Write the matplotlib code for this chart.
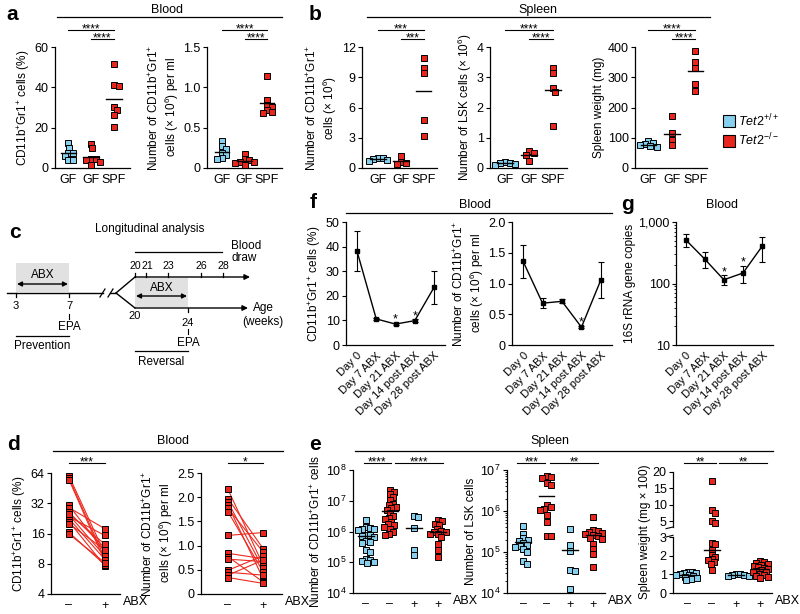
import numpy as np
import matplotlib
matplotlib.use('Agg')
import matplotlib.pyplot as plt
import matplotlib.transforms as mtransforms
from matplotlib.lines import Line2D
from matplotlib.patches import Rectangle
from matplotlib.ticker import NullLocator

plt.rcParams['font.family'] = ['Liberation Sans', 'DejaVu Sans']
plt.rcParams['mathtext.fontset'] = 'custom'
plt.rcParams['mathtext.rm'] = 'Liberation Sans'
plt.rcParams['mathtext.it'] = 'Liberation Sans:italic'
plt.rcParams['mathtext.bf'] = 'Liberation Sans:bold'
plt.rcParams['mathtext.default'] = 'regular'
plt.rcParams['font.size'] = 9
plt.rcParams['axes.linewidth'] = 0.9

BLUE = '#86cfee'
RED = '#e8261e'

# ---------------- data ----------------
gf_labels = ['GF', 'GF', 'SPF']
abx_labels = ['\u2013', '\u2013', '+', '+']
pair_labels = ['\u2013', '+']
days = ['Day 0', 'Day 7 ABX', 'Day 21 ABX', 'Day 14 post ABX', 'Day 28 post ABX']

# a: blood
a_pct_gf_wt = [12.2, 10.0, 7.5, 7.3, 5.8, 4.2, 4.0]
a_pct_gf_ko = [12.0, 9.8, 4.6, 4.4, 4.2, 3.1, 1.6]
a_pct_spf_ko = [51.8, 41.0, 40.6, 30.4, 28.8, 26.3, 20.2]
a_num_gf_wt = [0.34, 0.27, 0.24, 0.19, 0.16, 0.12, 0.11]
a_num_gf_ko = [0.17, 0.11, 0.10, 0.08, 0.07, 0.06, 0.04]
a_num_spf_ko = [1.14, 0.84, 0.78, 0.76, 0.72, 0.70, 0.68]

# b: spleen
b_cd11_gf_wt = [1.0, 1.0, 0.9, 0.8, 0.7]
b_cd11_gf_ko = [1.15, 0.6, 0.5, 0.35]
b_cd11_spf_ko = [10.9, 9.9, 9.4, 4.8, 3.2]
b_lsk_gf_wt = [0.2, 0.18, 0.15, 0.12, 0.1]
b_lsk_gf_ko = [0.55, 0.5, 0.44, 0.22]
b_lsk_spf_ko = [3.3, 3.13, 2.64, 2.5, 1.4]
b_wt_gf_wt = [88, 82, 78, 75, 72, 70]
b_wt_gf_ko = [172, 115, 91, 75]
b_wt_spf_ko = [387, 351, 332, 279, 255]

# f, g: longitudinal
f_pct = [38.2, 10.6, 8.5, 9.9, 23.4]
f_pct_err = [8.0, 0.5, 0.4, 0.5, 6.7]
f_pct_stars = [2, 3]
f_num = [1.36, 0.68, 0.71, 0.29, 1.06]
f_num_err = [0.27, 0.08, 0.03, 0.02, 0.29]
f_num_stars = [3]
g_copies = [516, 250, 115, 148, 402]
g_err = [122, 71, 21, 47, 175]
g_stars = [2, 3]

# d: paired, before / after ABX
d_pct_pre = [60, 57, 55, 30.5, 29, 26, 24.5, 23.5, 22.5, 21, 20, 16.4, 15.8, 25]
d_pct_abx = [10, 9, 8.4, 10.5, 17.8, 11.5, 9.5, 15.3, 8.8, 7.6, 11, 7.8, 8.2, 12.5]
d_num_pre = [2.16, 1.97, 1.9, 1.83, 1.77, 1.7, 1.21, 0.84, 0.77, 0.72, 0.49, 0.45, 0.39, 0.34]
d_num_abx = [0.6, 0.94, 0.53, 0.32, 0.87, 0.46, 1.27, 0.73, 0.25, 0.67, 0.79, 0.39, 0.7, 0.22]

# e: spleen, ctrl wt / ctrl ko / abx wt / abx ko
e_cd11_ctrl_wt = [2.3e6, 1.4e6, 1.3e6, 1.25e6, 1.2e6, 1.1e6, 7.9e5, 7.6e5, 7.2e5, 6.8e5,
                  4.8e5, 4.6e5, 4.2e5, 2.5e5, 2.2e5, 1.3e5, 1.2e5, 1.1e5, 1.0e5, 9.5e4]
e_cd11_ctrl_ko = [2.3e7, 1.95e7, 1.65e7, 1.35e7, 1.05e7, 8.1e6, 7.2e6, 6.3e6, 5.6e6, 5.0e6, 3.9e6,
                  3.2e6, 2.8e6, 2.6e6, 2.1e6, 1.75e6, 1.6e6, 1.4e6, 1.2e6, 9.8e5, 8.6e5, 7.6e5]
e_cd11_abx_wt = [3.2e6, 3.0e6, 1.26e6, 2.5e5, 1.7e5]
e_cd11_abx_ko = [2.3e6, 2.2e6, 1.8e6, 1.6e6, 1.2e6, 1.05e6, 1.0e6, 9.5e5, 8.5e5, 8.0e5,
                 6.8e5, 4.0e5, 2.5e5, 1.5e5]
e_cd11_lines = [7.2e5, 4.5e6, 1.26e6, 9.8e5]
e_lsk_ctrl_wt = [4.3e5, 2.8e5, 2.15e5, 2.0e5, 1.9e5, 1.65e5, 1.5e5, 1.4e5, 1.3e5, 1.2e5, 1.0e5, 6.0e4, 5.2e4]
e_lsk_ctrl_ko = [7.2e6, 6.9e6, 6.3e6, 4.7e6, 4.3e6, 1.4e6, 1.26e6, 1.15e6, 1.05e6, 8.0e5, 5.5e5, 2.5e5, 2.4e5]
e_lsk_abx_wt = [3.55e5, 1.48e5, 1.07e5, 3.7e4, 3.5e4, 1.26e4]
e_lsk_abx_ko = [7.2e5, 3.5e5, 3.3e5, 3.1e5, 2.9e5, 2.8e5, 2.6e5, 2.4e5, 2.2e5, 2.1e5, 1.6e5, 1.2e5, 9.0e4, 4.4e4]
e_lsk_lines = [1.8e5, 2.3e6, 1.1e5, 2.6e5]
e_wt_ctrl_wt = [1.15, 1.12, 1.08, 1.05, 1.0, 0.98, 0.95, 0.9, 0.88, 0.82, 0.75, 0.68]
e_wt_ctrl_ko = [17.2, 8.4, 7.5, 4.9, 4.3, 2.7, 2.6, 2.3, 2.05, 1.93, 1.84, 1.75, 1.66, 1.57, 1.22]
e_wt_abx_wt = [1.02, 1.0, 0.97, 0.95, 0.92, 0.9]
e_wt_abx_ko = [1.7, 1.65, 1.6, 1.55, 1.5, 1.45, 1.4, 1.35, 1.3, 1.25, 1.2, 1.15, 1.1, 1.0,
               0.95, 0.9, 0.85, 0.78]
e_wt_lines = [0.95, 2.3, 0.95, 1.3]

# c: schematic weeks
c_prev_weeks = [3, 7]
c_top_weeks = [20, 21, 23, 26, 28]
c_bot_weeks = [20, 24]

# ---------------- helpers ----------------
W, H = 800, 614
fig = plt.figure(figsize=(W / 100, H / 100), dpi=100)


def box(x0, y0, x1, y1):
    return fig.add_axes([x0 / W, 1 - y1 / H, (x1 - x0) / W, (y1 - y0) / H])


def ftext(x, y, s, **kw):
    fig.text(x / W, 1 - y / H, s, **kw)


def fline(x0, x1, y, lw=0.9):
    fig.add_artist(Line2D([x0 / W, x1 / W], [1 - y / H, 1 - y / H], color='k', lw=lw,
                          transform=fig.transFigure))


def style(ax, ylabel, ylim, yticks, yticklabels=None, xlim=None, xticklabels=None, scale=None):
    ax.spines[['top', 'right']].set_visible(False)
    if scale == 'log2':
        ax.set_yscale('log', base=2)
    elif scale == 'log':
        ax.set_yscale('log')
    ax.set_ylim(*ylim)
    ax.set_yticks(yticks)
    if yticklabels is not None:
        ax.set_yticklabels(yticklabels)
    if xlim is not None:
        ax.set_xlim(*xlim)
    if xticklabels is not None:
        ax.set_xticks(range(len(xticklabels)))
        ax.set_xticklabels(xticklabels)
    ax.set_ylabel(ylabel, fontsize=8.5, labelpad=2, linespacing=1.1)
    ax.tick_params(axis='y', which='major', length=3, width=0.8, pad=1.5, labelsize=9)
    ax.tick_params(axis='y', which='minor', length=1.6, width=0.6)
    ax.tick_params(axis='x', length=0, pad=4, labelsize=9)


def swarm_x(ax, xc, vals, d=4.6):
    vals = np.asarray(vals, float)
    disp = ax.transData.transform(np.column_stack([np.full(len(vals), xc), vals]))
    ys = disp[:, 1]
    cx = disp[0, 0]
    offs = np.zeros(len(vals))
    placed = []
    cand = [0.0]
    for k in range(1, 40):
        cand += [k * 0.7, -k * 0.7]
    for i in np.argsort(-ys):
        for dx in cand:
            if all((dx - px) ** 2 + (ys[i] - py) ** 2 >= d * d for px, py in placed):
                break
        placed.append((dx, ys[i]))
        offs[i] = dx
    inv = ax.transData.inverted()
    return inv.transform(np.column_stack([cx + offs, ys]))[:, 0]


def dots(ax, groups, lines=None, half=0.33, d=4.6):
    for k, (vals, col) in enumerate(groups):
        vals = np.asarray(vals, float)
        xs = swarm_x(ax, k, vals, d)
        ax.plot(xs, vals, 's', ms=4.3, mfc=col, mec='k', mew=0.7, ls='none', zorder=3, clip_on=False)
        if lines is not None:
            m = lines[k]
            ax.plot([k - half, k + half], [m, m], color='k', lw=1, zorder=4)


def sig(ax, x0, x1, ypix, label):
    tr = mtransforms.blended_transform_factory(ax.transData, fig.transFigure)
    ax.plot([x0, x1], [1 - ypix / H] * 2, color='k', lw=0.8, transform=tr, clip_on=False)
    ax.text((x0 + x1) / 2, 1 - (ypix + 2) / H, label, transform=tr, ha='center',
            va='baseline', fontsize=8.5)


def abx_label(ax):
    ax.annotate('ABX', xy=(1, 0), xycoords='axes fraction', xytext=(2, -6),
                textcoords='offset points', ha='left', va='center', fontsize=9)


def means(groups):
    return [np.mean(v) for v, c in groups]


lab_num = 'Number of CD11b$^{+}$Gr1$^{+}$\ncells (\u00d7 10$^{6}$) per ml'
lab_pct = 'CD11b$^{+}$Gr1$^{+}$ cells (%)'

# ---------------- panel a ----------------
ax = box(55, 47, 130, 168)
style(ax, lab_pct, (0, 60), [0, 20, 40, 60], xlim=(-0.57, 2.7), xticklabels=gf_labels)
g = [(a_pct_gf_wt, BLUE), (a_pct_gf_ko, RED), (a_pct_spf_ko, RED)]
dots(ax, g, means(g))
sig(ax, 0, 2, 30, '****')
sig(ax, 1, 2, 39, '****')

ax = box(207, 47, 282, 168)
style(ax, lab_num, (0, 1.5), [0, 0.5, 1.0, 1.5], ['0', '0.5', '1.0', '1.5'],
      xlim=(-0.67, 2.67), xticklabels=gf_labels)
g = [(a_num_gf_wt, BLUE), (a_num_gf_ko, RED), (a_num_spf_ko, RED)]
dots(ax, g, means(g))
sig(ax, 0, 2, 30, '****')
sig(ax, 1, 2, 39, '****')

ftext(167, 10, 'Blood', ha='center', va='center', fontsize=9)
fline(57, 282, 17)

# ---------------- panel b ----------------
ax = box(362, 47, 437, 168)
style(ax, 'Number of CD11b$^{+}$Gr1$^{+}$\ncells (\u00d7 10$^{6}$)', (0, 12), [0, 3, 6, 9, 12],
      xlim=(-0.7, 2.57), xticklabels=gf_labels)
g = [(b_cd11_gf_wt, BLUE), (b_cd11_gf_ko, RED), (b_cd11_spf_ko, RED)]
dots(ax, g, means(g))
sig(ax, 0, 2, 30, '***')
sig(ax, 1, 2, 39, '***')

ax = box(490, 47, 567, 168)
style(ax, 'Number of LSK cells (\u00d7 10$^{6}$)', (0, 4), [0, 1, 2, 3, 4],
      xlim=(-0.63, 2.58), xticklabels=gf_labels)
g = [(b_lsk_gf_wt, BLUE), (b_lsk_gf_ko, RED), (b_lsk_spf_ko, RED)]
dots(ax, g, means(g))
sig(ax, 0, 2, 30, '****')
sig(ax, 1, 2, 39, '****')

ax = box(635, 47, 707, 168)
style(ax, 'Spleen weight (mg)', (0, 400), [0, 100, 200, 300, 400],
      xlim=(-0.57, 2.5), xticklabels=gf_labels)
g = [(b_wt_gf_wt, BLUE), (b_wt_gf_ko, RED), (b_wt_spf_ko, RED)]
dots(ax, g, means(g))
sig(ax, 0, 2, 30, '****')
sig(ax, 1, 2, 39, '****')

ftext(538, 10, 'Spleen', ha='center', va='center', fontsize=9)
fline(367, 710, 17)

handles = [Line2D([], [], marker='s', ls='none', ms=9, mfc=BLUE, mec='k', mew=0.8),
           Line2D([], [], marker='s', ls='none', ms=9, mfc=RED, mec='k', mew=0.8)]
fig.legend(handles, ['$\\mathit{Tet2^{+/+}}$', '$\\mathit{Tet2^{-/-}}$'], loc='upper left',
           bbox_to_anchor=(716 / W, 1 - 106 / H), frameon=False, handlelength=1.0,
           handletextpad=0.3, labelspacing=0.25, fontsize=9, borderpad=0)

# ---------------- panel c ----------------
axc = box(0, 215, 300, 375)
axc.set_xlim(0, 300)
axc.set_ylim(375, 215)
axc.axis('off')


def wx_left(w):
    return 16 + (w - 3) * 13.25


def wx_top(w):
    return 135 + (w - 20) * 11.0


def wx_bot(w):
    return 135 + (w - 20) * 13.25


arrow2 = dict(arrowstyle='<|-|>', color='k', lw=1, mutation_scale=7, shrinkA=0, shrinkB=0)
arrow1 = dict(arrowstyle='-|>', color='k', lw=1, mutation_scale=8, shrinkA=0, shrinkB=0)
kw = dict(fontsize=8.5, ha='center', va='center')
kwn = dict(fontsize=8, ha='center', va='center')

axc.text(150, 229, 'Longitudinal analysis', **kw)
axc.plot([135, 222], [252, 252], color='k', lw=0.9)
axc.text(231, 252, 'Blood\ndraw', fontsize=8.5, ha='left', va='center', linespacing=0.95)

x3, x7 = wx_left(c_prev_weeks[0]), wx_left(c_prev_weeks[1])
axc.add_patch(Rectangle((x3, 263), x7 - x3, 29, fc='#e1e1e1', ec='none'))
axc.text((x3 + x7) / 2, 275, 'ABX', **kw)
axc.annotate('', xy=(x7 - 1, 284), xytext=(x3 + 1, 284), arrowprops=arrow2)
axc.plot([7, 103], [293, 293], color='k', lw=1)
axc.plot([100, 105], [297, 289], color='k', lw=0.9)
axc.plot([108, 113], [297, 289], color='k', lw=0.9)
axc.plot([110, 116], [293, 293], color='k', lw=1)
axc.plot([116, 135], [293, 277], color='k', lw=1)
axc.plot([116, 135], [293, 308], color='k', lw=1)
for w in c_prev_weeks:
    axc.plot([wx_left(w)] * 2, [293, 297], color='k', lw=0.9)
    axc.text(wx_left(w), 306, str(w), **kwn)
axc.plot([x7, x7], [314, 319], color='k', lw=0.8)
axc.text(x7, 327, 'EPA', **kw)
axc.plot([x3, x7], [336, 336], color='k', lw=0.9)
axc.text((x3 + x7) / 2, 346, 'Prevention', **kw)

axc.annotate('', xy=(250, 277), xytext=(wx_top(20), 277), arrowprops=arrow1)
for w in c_top_weeks:
    axc.plot([wx_top(w)] * 2, [273, 277], color='k', lw=0.9)
    axc.text(wx_top(w) + (1 if w == 21 else 0), 266, str(w), fontsize=7.6, ha='center', va='center')

b20, b24 = wx_bot(c_bot_weeks[0]), wx_bot(c_bot_weeks[1])
axc.add_patch(Rectangle((b20, 278), b24 - b20, 29, fc='#e1e1e1', ec='none'))
axc.text((b20 + b24) / 2, 288, 'ABX', **kw)
axc.annotate('', xy=(b24 - 1, 296), xytext=(b20 + 1, 296), arrowprops=arrow2)
axc.annotate('', xy=(248, 308), xytext=(b20, 308), arrowprops=arrow1)
axc.plot([b24, b24], [308, 312], color='k', lw=0.9)
axc.text(b20, 316, '20', **kwn)
axc.text(b24, 323, '24', **kwn)
axc.plot([b24, b24], [329, 334], color='k', lw=0.8)
axc.text(b24, 343, 'EPA', **kw)
axc.plot([b20, b24], [351, 351], color='k', lw=0.9)
axc.text((b20 + b24) / 2, 362, 'Reversal', **kw)
axc.text(253, 308, 'Age', fontsize=8.5, ha='left', va='center')
axc.text(242, 322, '(weeks)', fontsize=8.5, ha='left', va='center')

# ---------------- panel f ----------------
xd = np.arange(len(days))


def line_err(ax, vals, err, stars):
    ax.errorbar(xd, vals, yerr=err, fmt='-s', color='k', ms=3, lw=1, elinewidth=0.8,
                capsize=2.5, capthick=0.8, clip_on=False)
    for i in stars:
        ax.annotate('*', xy=(i, vals[i] + err[i]), xytext=(0, -2), textcoords='offset points',
                    ha='center', va='bottom', fontsize=9)
    ax.set_xticks(xd)
    ax.set_xticklabels(days, rotation=45, ha='right', rotation_mode='anchor', fontsize=8)


ax = box(346, 222, 445, 345)
style(ax, lab_pct, (0, 50), [0, 10, 20, 30, 40, 50], xlim=(-0.57, 4.57))
line_err(ax, f_pct, f_pct_err, f_pct_stars)

ax = box(512, 222, 612, 345)
style(ax, lab_num, (0, 2.0), [0, 0.5, 1.0, 1.5, 2.0], ['0', '0.5', '1.0', '1.5', '2.0'],
      xlim=(-0.57, 4.57))
line_err(ax, f_num, f_num_err, f_num_stars)

ftext(475, 205, 'Blood', ha='center', va='center', fontsize=9)
fline(346, 612, 213)

# ---------------- panel g ----------------
ax = box(676, 222, 773, 345)
style(ax, '16S rRNA gene copies', (10, 1000), [10, 100, 1000], ['10', '100', '1,000'],
      xlim=(-0.5, 4.57), scale='log')
line_err(ax, g_copies, g_err, g_stars)
ftext(722, 205, 'Blood', ha='center', va='center', fontsize=9)

# ---------------- panel d ----------------
for bx, pre, post, ylab, ylim, yt, ytl, xl, scale, lab in [
        ((51, 473, 120, 594), d_pct_pre, d_pct_abx, lab_pct, (4, 64), [4, 8, 16, 32, 64],
         ['4', '8', '16', '32', '64'], (-0.5, 1.42), 'log2', '***'),
        ((201, 473, 282, 594), d_num_pre, d_num_abx, lab_num, (0, 2.5),
         [0, 0.5, 1.0, 1.5, 2.0, 2.5], ['0', '0.5', '1.0', '1.5', '2.0', '2.5'],
         (-0.77, 1.54), None, '*')]:
    ax = box(*bx)
    style(ax, ylab, ylim, yt, ytl, xlim=xl, xticklabels=pair_labels, scale=scale)
    if scale == 'log2':
        ax.yaxis.set_minor_locator(NullLocator())
    for a, b in zip(pre, post):
        ax.plot([0, 1], [a, b], color='#ec2a20', lw=0.8, zorder=2)
    ax.plot(np.zeros(len(pre)), pre, 's', ms=4.3, mfc=RED, mec='k', mew=0.7, ls='none', zorder=3)
    ax.plot(np.ones(len(post)), post, 's', ms=4.3, mfc=RED, mec='k', mew=0.7, ls='none', zorder=3)
    sig(ax, 0, 1, 463, lab)
    abx_label(ax)

ftext(173, 441, 'Blood', ha='center', va='center', fontsize=9)
fline(53, 283, 451)

# ---------------- panel e ----------------
ax = box(353, 470, 450, 593)
style(ax, 'Number of CD11b$^{+}$Gr1$^{+}$ cells', (1e4, 1e8), [1e4, 1e5, 1e6, 1e7, 1e8],
      xlim=(-0.54, 3.5), xticklabels=abx_labels, scale='log')
dots(ax, [(e_cd11_ctrl_wt, BLUE), (e_cd11_ctrl_ko, RED), (e_cd11_abx_wt, BLUE),
          (e_cd11_abx_ko, RED)], e_cd11_lines, d=4.2)
sig(ax, -0.1, 1.05, 463, '****')
sig(ax, 1.2, 3.2, 463, '****')
abx_label(ax)

ax = box(507, 470, 605, 593)
style(ax, 'Number of LSK cells', (1e4, 1e7), [1e4, 1e5, 1e6, 1e7],
      xlim=(-0.69, 3.5), xticklabels=abx_labels, scale='log')
dots(ax, [(e_lsk_ctrl_wt, BLUE), (e_lsk_ctrl_ko, RED), (e_lsk_abx_wt, BLUE),
          (e_lsk_abx_ko, RED)], e_lsk_lines, d=4.4)
sig(ax, -0.25, 0.95, 463, '***')
sig(ax, 1.15, 3.2, 463, '**')
abx_label(ax)

# spleen weight, broken axis
ax_hi = box(673, 472, 772, 527)
ax_lo = box(673, 537, 772, 593)
style(ax_lo, '', (0, 3), [0, 1, 2, 3], xlim=(-0.62, 3.5), xticklabels=abx_labels)
style(ax_hi, '', (3.2, 20), [5, 10, 15, 20], xlim=(-0.62, 3.5))
ax_hi.spines['bottom'].set_visible(False)
ax_hi.set_xticks([])
ax_hi.plot([-0.07, 0.0], [-0.03, 0.0], transform=ax_hi.transAxes, color='k', lw=0.8, clip_on=False)
ax_lo.plot([-0.07, 0.0], [1.0, 1.03], transform=ax_lo.transAxes, color='k', lw=0.8, clip_on=False)
groups = [(e_wt_ctrl_wt, BLUE), (e_wt_ctrl_ko, RED), (e_wt_abx_wt, BLUE), (e_wt_abx_ko, RED)]
for k, (vals, col) in enumerate(groups):
    vals = np.asarray(vals, float)
    for axb, sel in [(ax_hi, vals > 3.2), (ax_lo, vals <= 3.2)]:
        if sel.any():
            xs = swarm_x(axb, k, vals[sel], 3.8)
            axb.plot(xs, vals[sel], 's', ms=4.3, mfc=col, mec='k', mew=0.7, ls='none',
                     zorder=3, clip_on=False)
    m = e_wt_lines[k]
    ax_lo.plot([k - 0.33, k + 0.33], [m, m], color='k', lw=1, zorder=4)
fig.text((ax_lo.get_position().x0) - 28 / W, 1 - 532 / H, 'Spleen weight (mg \u00d7 100)',
         rotation=90, ha='center', va='center', fontsize=8.5)
sig(ax_hi, -0.15, 1.15, 463, '**')
sig(ax_hi, 1.3, 3.3, 463, '**')
abx_label(ax_lo)

ftext(550, 441, 'Spleen', ha='center', va='center', fontsize=9)
fline(355, 773, 451)

# ---------------- panel letters ----------------
for x, y, s in [(12, 15, 'a'), (315, 15, 'b'), (15, 233, 'c'), (313, 203, 'f'),
                (628, 205, 'g'), (13, 445, 'd'), (315, 444, 'e')]:
    ftext(x, y, s, ha='center', va='center', fontsize=15, fontweight='bold')

fig.savefig('out.png', dpi=100)
